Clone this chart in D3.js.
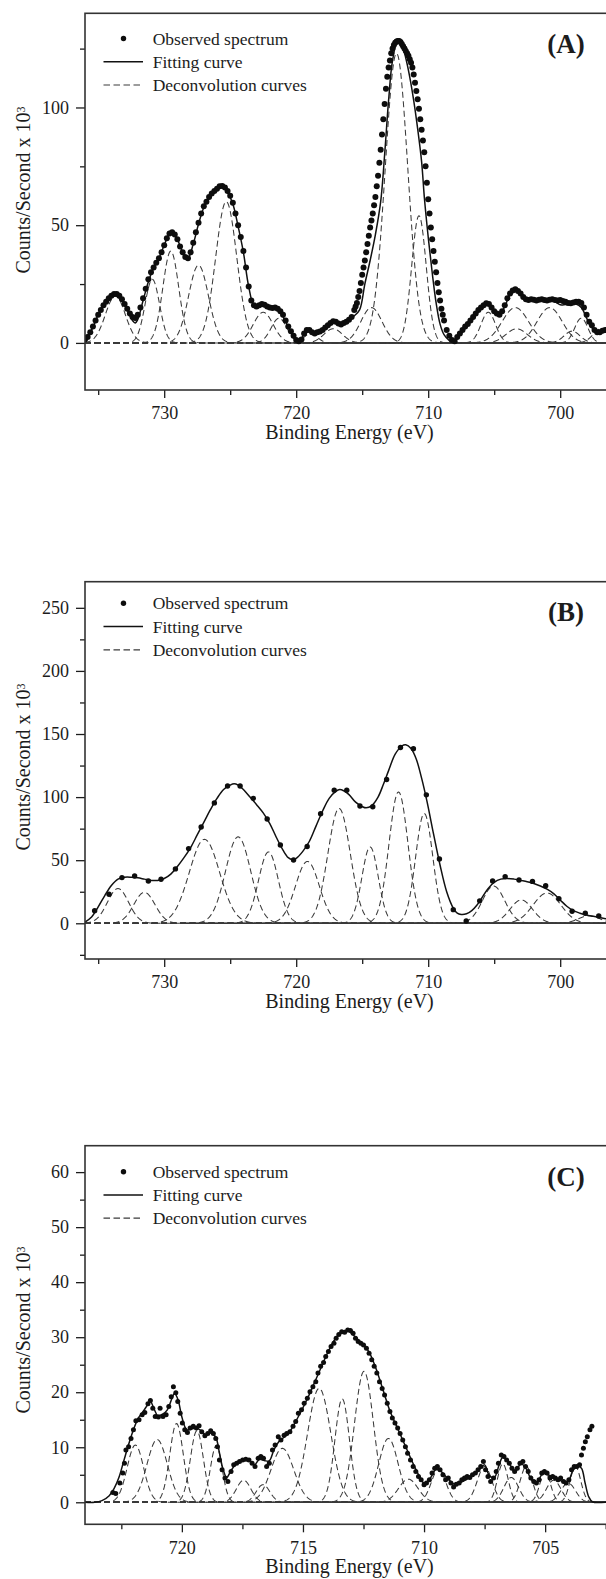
<!DOCTYPE html>
<html lang="en">
<head>
<meta charset="UTF-8">
<title>XPS deconvolution</title>
<style>
  body { margin: 0; background: #fff; }
  svg { display: block; }
</style>
</head>
<body>
<div id="chart"></div>
<script src="https://cdn.jsdelivr.net/npm/d3@7/dist/d3.min.js"></script>
<script>
// ---- panel A : observed spectrum [binding energy, counts/s x 1e3] ----
const obsA = [[736.0,1.5],[735.8,2.5],[735.6,4.5],[735.4,7],[735.2,9.5],[735.0,12],[734.8,14],[734.6,16],[734.4,17.5],[734.2,19],[734.0,20],[733.8,20.8],[733.6,20.8],[733.4,20],[733.2,18.5],[733.0,16.5],[732.8,14.5],[732.6,12.5],[732.4,11],[732.2,10.6],[732.0,12],[731.8,15],[731.6,19],[731.4,23],[731.2,27],[731.0,30],[730.8,32],[730.6,34],[730.4,36],[730.2,38.5],[730.0,41.5],[729.8,44.5],[729.6,46.5],[729.4,47],[729.2,46],[729.0,44],[728.8,41],[728.6,38.5],[728.4,36.5],[728.2,36],[728.0,38.5],[727.8,42.5],[727.6,47],[727.4,51],[727.2,55],[727.0,58],[726.8,60],[726.6,62],[726.4,63.5],[726.2,64.5],[726.0,65.5],[725.8,66.5],[725.6,66.7],[725.4,66],[725.2,64.5],[725.0,62.5],[724.8,59.5],[724.6,55],[724.4,50],[724.2,45],[724.0,39],[723.8,32],[723.6,24],[723.4,18],[723.2,16],[723.0,15.5],[722.8,16],[722.6,16.5],[722.4,16.2],[722.2,15.5],[722.0,15],[721.8,14.8],[721.6,15],[721.4,14.5],[721.2,13.5],[721.0,12],[720.8,9.5],[720.6,7],[720.4,5],[720.2,3],[720.0,1.2],[719.8,0.7],[719.6,1.5],[719.4,4],[719.2,5.5],[719.0,5.5],[718.8,4.5],[718.6,4],[718.4,4.5],[718.2,4.8],[718.0,5.5],[717.8,6.5],[717.6,7.5],[717.4,8.5],[717.2,9.2],[717.0,9],[716.8,8.2],[716.6,7.8],[716.4,8.5],[716.2,9],[716.0,9.8],[715.8,11],[715.6,14],[715.5,15.5],[715.4,17],[715.3,19.5],[715.2,22],[715.1,25.5],[715.0,29],[714.9,32],[714.8,35],[714.7,38.5],[714.6,42],[714.5,45.5],[714.4,49],[714.3,52],[714.2,55],[714.1,58.5],[714.0,62],[713.9,66.5],[713.8,71],[713.7,76.5],[713.6,82],[713.5,88.5],[713.4,95],[713.3,101.5],[713.2,108],[713.1,113],[713.0,117],[712.9,120],[712.8,123],[712.7,125],[712.6,126.5],[712.5,127.5],[712.4,128],[712.3,128.2],[712.2,128.2],[712.1,127.8],[712.0,127],[711.9,126],[711.8,125],[711.7,124],[711.6,123],[711.5,122],[711.4,120.5],[711.3,119],[711.2,117],[711.1,114],[711.0,110.5],[710.9,107],[710.8,103.5],[710.7,99.5],[710.6,95],[710.5,90.5],[710.4,86],[710.3,81],[710.2,75],[710.1,68],[710.0,61],[709.9,55],[709.8,49],[709.7,44],[709.6,39],[709.5,34.5],[709.4,30],[709.3,25.5],[709.2,21.5],[709.1,18],[709.0,14.5],[708.9,12],[708.8,9.5],[708.6,5.5],[708.4,3],[708.2,1.2],[708.0,0.7],[707.8,2.5],[707.6,4],[707.4,5.5],[707.2,7],[707.0,8],[706.8,9.5],[706.6,11],[706.4,12.5],[706.2,14],[706.0,15],[705.8,16],[705.6,16.8],[705.4,16.5],[705.2,15],[705.0,13.5],[704.8,12.5],[704.6,12],[704.4,13.5],[704.2,16],[704.0,19],[703.8,21],[703.6,22.3],[703.4,22.8],[703.2,22],[703.0,21],[702.8,19.5],[702.6,18.5],[702.4,18.2],[702.2,18.5],[702.0,18.3],[701.8,18],[701.6,18.3],[701.4,18.5],[701.2,18.2],[701.0,18],[700.8,18.3],[700.6,18.5],[700.4,18.2],[700.2,18],[700.0,18.2],[699.8,17.8],[699.6,17.5],[699.4,17],[699.2,16.8],[699.0,17.2],[698.8,17.5],[698.6,17.5],[698.4,17],[698.2,15],[698.0,12],[697.8,9],[697.6,7.5],[697.4,5.5],[697.2,4.5],[697.0,4.5],[696.8,5.2],[696.6,5.5],[696.4,5.5],[696.2,5.5]];

const fitA = [[736.0,1.5],[735.5,5.5],[735.0,12],[734.5,17],[734.0,20],[733.6,20.8],[733.2,18.5],[732.8,14],[732.4,9.5],[732.2,8.5],[732.0,10],[731.6,18],[731.2,26],[730.8,32],[730.4,36],[730.0,41.5],[729.6,46.5],[729.4,47],[729.0,44],[728.6,38.5],[728.2,36],[727.8,42],[727.4,50.5],[727.0,57.5],[726.6,61.5],[726.2,64],[725.8,66],[725.6,66.5],[725.2,64],[724.8,59],[724.4,49.5],[724.0,38.5],[723.6,24],[723.2,16],[722.8,15.5],[722.4,16],[722.0,14.8],[721.6,14.5],[721.2,13],[720.8,9],[720.4,4.5],[720.0,1],[719.8,0.5],[719.4,3.5],[719.0,5],[718.6,3.8],[718.2,4.5],[717.8,6.2],[717.2,9],[716.6,7.5],[716.0,9.5],[715.6,11.5],[715.2,14],[714.8,25],[714.4,35],[714.0,46],[713.6,60],[713.3,80],[713.0,103],[712.7,120],[712.3,128.5],[712.0,127],[711.7,121],[711.4,113],[711.1,103],[710.8,91],[710.5,77],[710.28,61],[710.0,45],[709.7,30],[709.4,17],[709.1,8],[708.8,3.5],[708.4,1],[708.1,0.3],[707.6,3.5],[707.0,7.5],[706.4,12],[705.9,15],[705.5,16.5],[705.0,13.5],[704.6,11.8],[704.2,15.5],[703.8,20.5],[703.4,22.3],[703.0,20.5],[702.6,18],[702.2,18],[701.6,17.8],[701.0,17.8],[700.5,17.8],[700.0,16.2],[699.6,16.3],[699.2,16.5],[698.8,16.5],[698.4,15],[698.0,10.5],[697.6,6.5],[697.2,4.2],[696.8,4.5],[696.4,5],[696.0,5]];

// deconvolution components: [centre eV, height, sigma eV]
const compA = [[733.7,20,0.75],[730.9,27,0.55],[729.5,39,0.6],[727.4,33,0.75],[725.3,60,0.8],[722.5,13,0.75],[721.3,10.5,0.6],[718.9,4,0.5],[717.2,6,0.7],[714.3,15,0.8],[712.4,123,0.85],[710.7,54,0.55],[705.45,13,0.55],[703.4,15,1.0],[703.3,6,0.8],[700.8,15,0.95],[699.1,5,0.6],[698.4,10.5,0.5],[696.9,6,0.6]];

// ---- panel B ----
const obsB = [[735.27,10],[734.18,23],[733.2,36.2],[732.24,37.5],[731.2,33.5],[730.24,34.9],[729.15,43.1],[728.15,59.2],[727.2,76.3],[726.2,95.4],[725.2,108.8],[724.25,108.8],[723.25,99],[722.2,82.7],[721.2,62.1],[720.2,50.2],[719.17,60.8],[718.15,86.8],[717.12,105.5],[716.17,105.5],[715.17,93],[714.2,92.4],[713.15,114],[712.1,139.3],[711.12,138.4],[710.14,101.8],[709.15,51],[708.1,10.8],[707.12,1.8],[706.1,17.8],[705.12,33.5],[704.17,37],[703.12,34.3],[702.1,33.2],[701.1,29.7],[700.1,19.5],[699.1,9.5],[698.1,7.9],[697.08,5.8]];

const fitB = [[736.0,1],[735.5,5],[735.0,13],[734.5,22],[734.0,30],[733.5,35],[733.0,36.5],[732.5,36.5],[732.0,36],[731.5,35],[731.0,34],[730.5,34],[730.0,35.5],[729.5,39],[729.0,45],[728.5,52],[728.0,60],[727.5,70],[727.0,80],[726.5,90],[726.0,99],[725.5,106],[725.0,109.5],[724.7,110.5],[724.4,109.5],[724.0,106],[723.5,100],[723.0,94],[722.5,87.5],[722.0,79],[721.5,68],[721.0,58],[720.6,52],[720.3,50.5],[720.0,51.5],[719.5,57],[719.0,65],[718.5,77],[718.0,89],[717.5,99],[717.0,104.5],[716.7,106],[716.4,105],[716.0,102],[715.5,96],[715.0,92.5],[714.7,91.5],[714.3,93],[713.8,100],[713.4,110],[713.0,121],[712.5,134],[712.0,140.5],[711.7,141.5],[711.3,138.5],[710.9,130],[710.5,115],[710.1,97],[709.6,71],[709.1,46],[708.6,25],[708.1,12],[707.8,8],[707.5,7],[707.1,7.5],[706.7,10],[706.3,14.5],[706.0,19],[705.5,27],[705.0,32.5],[704.5,35],[704.0,35.5],[703.5,35],[703.0,34],[702.5,33],[702.0,31.5],[701.5,29.5],[701.0,27],[700.5,23.5],[700.0,18.5],[699.5,13.5],[699.0,10],[698.5,8],[698.0,6.5],[697.5,5.5],[697.0,4.5],[696.5,3.5],[696.0,3]];

const compB = [[733.5,27.5,0.8],[731.5,24.5,0.8],[726.95,66.5,1.15],[724.4,68.5,0.95],[722.1,56.5,0.75],[719.15,49,0.9],[716.75,91,0.85],[714.4,60.5,0.62],[712.25,104,0.72],[710.3,87,0.65],[705.05,29.5,0.85],[702.95,18.5,0.85],[701.0,24,1.05],[697.8,6,0.8]];

// ---- panel C ----
const obsC = [[722.85,1.8],[722.73,1.6],[722.56,3.5],[722.44,5.3],[722.37,7.1],[722.31,9.5],[722.2,10.1],[722.1,11.6],[722.0,13.2],[721.9,14.8],[721.77,15],[721.64,15.9],[721.53,16.3],[721.4,17.9],[721.3,18.5],[721.2,17.1],[721.1,15.6],[720.97,15.5],[720.9,17.1],[720.78,15.6],[720.65,15.9],[720.54,17.4],[720.44,19.2],[720.35,21],[720.25,19.9],[720.17,18.3],[720.07,16.2],[719.98,14.4],[719.88,13.2],[719.77,12.7],[719.66,13.5],[719.53,13.8],[719.4,13.5],[719.29,13.9],[719.18,12.8],[719.05,12.1],[718.93,12.5],[718.81,13],[718.7,12.5],[718.6,11.6],[718.53,10.1],[718.45,7.7],[718.34,5.9],[718.22,4.4],[718.1,3.8],[717.97,5.6],[717.86,6.8],[717.74,7.1],[717.62,7.4],[717.49,7.7],[717.36,7.8],[717.23,7.7],[717.1,7.1],[716.98,6.5],[716.85,8],[716.74,8.3],[716.63,8],[716.5,6.5],[716.39,7.1],[716.26,9.5],[716.15,10.4],[716.02,11.9],[715.91,11.3],[715.78,12.2],[715.67,12.5],[715.54,12.8],[715.41,13.8],[715.3,14.7],[715.19,16.2],[715.06,16.8],[714.95,18],[714.82,18.9],[714.71,20.1],[714.59,21],[714.47,21.9],[714.38,23.5],[714.27,24.7],[714.15,25.4],[714.06,26.5],[713.95,27.4],[713.84,28.3],[713.72,28.9],[713.63,29.8],[713.52,30.5],[713.4,31],[713.28,30.9],[713.15,31.3],[713.04,31.2],[712.93,30.7],[712.83,29.8],[712.72,29.2],[712.61,28.9],[712.5,28.6],[712.38,28],[712.27,27.1],[712.16,25.9],[712.06,24.7],[711.95,23.5],[711.84,21.9],[711.73,20.7],[711.63,19.5],[711.52,18],[711.41,16.5],[711.31,15.3],[711.2,14.4],[711.09,13.5],[710.99,12.5],[710.88,11.3],[710.77,10.1],[710.68,8.9],[710.56,7.7],[710.45,6.5],[710.34,5.6],[710.23,4.7],[710.12,4.1],[710.0,3.2],[709.9,3.5],[709.78,4.1],[709.67,5.3],[709.56,6.2],[709.45,6.5],[709.34,5.9],[709.22,5],[709.11,4.1],[709.0,4.4],[708.89,3.5],[708.78,2.8],[708.67,3.3],[708.55,3.5],[708.44,4.1],[708.33,4.4],[708.22,4.7],[708.11,4.5],[708.0,5],[707.88,5.3],[707.77,5.9],[707.66,6.5],[707.55,7.4],[707.46,5.9],[707.36,4.7],[707.25,3.8],[707.13,4.4],[707.02,5.6],[706.93,7.1],[706.81,8.6],[706.7,8.3],[706.59,7.7],[706.48,7.1],[706.37,6.2],[706.26,5.6],[706.15,6.2],[706.04,7.1],[705.92,7.4],[705.81,6.5],[705.7,5.6],[705.59,4.4],[705.47,3.8],[705.36,3.5],[705.25,4.1],[705.14,5.3],[705.03,5.6],[704.92,5.3],[704.8,4.4],[704.69,4.7],[704.58,4.4],[704.47,4.1],[704.36,4.4],[704.24,3.8],[704.13,3.5],[704.02,4.1],[703.91,5.9],[703.8,6.5],[703.69,6.5],[703.58,6.8],[703.5,8.6],[703.42,9.8],[703.34,11],[703.26,11.9],[703.15,13.2],[703.07,13.8]];

const fitC = [[724.0,0],[723.6,0],[723.3,0.3],[723.0,1.2],[722.8,2.5],[722.6,4.5],[722.4,7.5],[722.2,10.5],[722.0,13.2],[721.8,15.3],[721.6,16.5],[721.4,17.8],[721.3,18.3],[721.15,17],[721.0,15.8],[720.8,16],[720.6,16.8],[720.4,19],[720.3,19.8],[720.15,18.5],[720.0,15.5],[719.8,13.2],[719.6,13.3],[719.4,13.5],[719.2,13],[719.0,12.2],[718.8,12.6],[718.6,11.8],[718.45,9],[718.3,6],[718.15,4.5],[718.0,5.5],[717.8,6.8],[717.5,7.6],[717.2,7.5],[717.0,6.8],[716.8,7.8],[716.6,7.6],[716.4,7.5],[716.2,9.5],[716.0,11],[715.6,12.5],[715.2,15.5],[714.8,19],[714.4,23],[714.0,27],[713.7,29.5],[713.4,31],[713.15,31.2],[712.9,30.3],[712.6,29],[712.3,27.5],[712.0,24.5],[711.7,20.5],[711.4,16.5],[711.1,13.5],[710.8,10.5],[710.5,7.5],[710.2,4.8],[710.0,3.5],[709.8,4],[709.5,6],[709.3,5.6],[709.0,4.2],[708.7,3.2],[708.4,3.8],[708.0,4.8],[707.7,6],[707.5,6.8],[707.3,4.8],[707.1,4.5],[706.9,6.8],[706.75,8.2],[706.5,7.2],[706.25,5.5],[706.0,7],[705.8,6.2],[705.55,4],[705.35,3.5],[705.1,5.2],[704.9,5],[704.6,4.5],[704.3,3.8],[704.05,3.8],[703.85,5.8],[703.65,6.5],[703.5,6.2],[703.35,3.5],[703.2,1],[703.05,0.1],[702.5,0],[702.0,0]];

const compC = [[721.92,10.4,0.34],[721.02,11.4,0.42],[720.22,14.3,0.28],[719.38,13,0.27],[718.58,10.3,0.24],[717.45,4,0.3],[716.65,3.2,0.28],[715.85,9.8,0.47],[714.33,20.7,0.48],[713.38,18.8,0.3],[712.48,23.8,0.39],[711.47,11.6,0.4],[710.65,4.2,0.4],[709.4,6,0.3],[707.5,6.5,0.3],[706.75,7,0.22],[706.4,4.5,0.3],[705.78,6.5,0.25],[705.0,5.5,0.22],[704.65,4,0.3],[704.05,3.5,0.3],[703.75,6.5,0.22]];

// tick values
const xMajorAB = [730, 720, 710, 700];
const xMinorAB = [735, 725, 715, 705];
const xMajorC = [720, 715, 710, 705];
const xMinorC = [722.5, 717.5, 712.5, 707.5, 702.5];
const yMajorA = [0, 50, 100];
const yMinorA = [25, 75, 125];
const yMajorB = [0, 50, 100, 150, 200, 250];
const yMinorB = [-25, 25, 75, 125, 175, 225];
const yMajorC = [0, 10, 20, 30, 40, 50, 60];
const yMinorC = [5, 15, 25, 35, 45, 55];

const legendLabels = ['Observed spectrum', 'Fitting curve', 'Deconvolution curves'];

const serif = '"Liberation Serif", "Times New Roman", Times, serif';
const ink = '#1c1c1c';
const dash = '6,3.5';

const panels = [
  {id: 'A', obs: obsA, fit: fitA, comps: compA, top: 13.3, bottom: 390, right: 613,
   xDomain: [736, 696], yDomain: [-20, 140], xMajor: xMajorAB, xMinor: xMinorAB,
   yMajor: yMajorA, yMinor: yMinorA, zeroFrom: 720, r: 3.0, legendY: 38.5, tagY: 44, yTitleY: 190},
  {id: 'B', obs: obsB, fit: fitB, comps: compB, top: 581.7, bottom: 959, right: 613,
   xDomain: [736, 696], yDomain: [-28.3, 270.7], xMajor: xMajorAB, xMinor: xMinorAB,
   yMajor: yMajorB, yMinor: yMinorB, zeroFrom: 728.5, r: 2.7, legendY: 603.3, tagY: 611.7, yTitleY: 767},
  {id: 'C', obs: obsC, fit: fitC, comps: compC, top: 1145.7, bottom: 1524.3, right: 617.8,
   xDomain: [724, 702], yDomain: [-4, 64.8], xMajor: xMajorC, xMinor: xMinorC,
   yMajor: yMajorC, yMinor: yMinorC, zeroFrom: 715.5, r: 2.5, legendY: 1171.7, tagY: 1176.7, yTitleY: 1330}
];

const left = 85;

const svg = d3.select('#chart').append('svg')
  .attr('width', 606)
  .attr('height', 1579)
  .style('background', '#fff');

function styleAxis(a) {
  a.select('.domain').remove();
  a.attr('color', ink).attr('font-family', serif).attr('font-size', 18);
  a.selectAll('line').attr('stroke-width', 1.3);
}

function drawPanel(p) {
  const x = d3.scaleLinear().domain(p.xDomain).range([left, p.right]);
  const y = d3.scaleLinear().domain(p.yDomain).range([p.bottom, p.top]);
  const g = svg.append('g');

  svg.append('clipPath').attr('id', 'clip' + p.id)
    .append('rect')
    .attr('x', left).attr('y', p.top)
    .attr('width', p.right - left).attr('height', p.bottom - p.top);

  // axes: minor then major ticks, outward
  g.append('g').attr('transform', `translate(${left},0)`)
    .call(d3.axisLeft(y).tickValues(p.yMinor).tickSize(5).tickFormat(''))
    .call(styleAxis);
  g.append('g').attr('transform', `translate(${left},0)`)
    .call(d3.axisLeft(y).tickValues(p.yMajor).tickSize(9).tickPadding(7))
    .call(styleAxis);
  g.append('g').attr('transform', `translate(0,${p.bottom})`)
    .call(d3.axisBottom(x).tickValues(p.xMinor).tickSize(5).tickFormat(''))
    .call(styleAxis);
  g.append('g').attr('transform', `translate(0,${p.bottom})`)
    .call(d3.axisBottom(x).tickValues(p.xMajor).tickSize(8).tickPadding(8.5))
    .call(styleAxis);

  const plot = g.append('g').attr('clip-path', `url(#clip${p.id})`);

  // baseline
  plot.append('line')
    .attr('x1', x(p.zeroFrom)).attr('x2', p.right)
    .attr('y1', y(0)).attr('y2', y(0))
    .attr('stroke', '#2a2a2a').attr('stroke-width', 1.4);

  // deconvolution components (gaussians from the read peak parameters)
  const [e0, e1] = p.xDomain;
  const n = Math.round(Math.abs(e0 - e1) / 0.02);
  const grid = d3.range(n + 1).map(i => e0 + (e1 - e0) * i / n);
  const line = d3.line().x(d => x(d[0])).y(d => y(d[1]));
  p.comps.forEach(([c, h, s]) => {
    plot.append('path')
      .datum(grid.map(e => [e, h * Math.exp(-((e - c) ** 2) / (2 * s * s))]))
      .attr('fill', 'none')
      .attr('stroke', '#3a3a3a')
      .attr('stroke-width', 1.05)
      .attr('stroke-dasharray', dash)
      .attr('d', line);
  });

  // fitting curve
  plot.append('path')
    .datum(p.fit)
    .attr('fill', 'none')
    .attr('stroke', '#111')
    .attr('stroke-width', 1.5)
    .attr('d', d3.line().x(d => x(d[0])).y(d => y(d[1])).curve(d3.curveCatmullRom.alpha(0.5)));

  // observed spectrum
  plot.selectAll('circle.obs')
    .data(p.obs)
    .join('circle')
    .attr('class', 'obs')
    .attr('cx', d => x(d[0]))
    .attr('cy', d => y(d[1]))
    .attr('r', p.r)
    .attr('fill', '#0d0d0d');

  // frame
  g.append('rect')
    .attr('x', left).attr('y', p.top)
    .attr('width', p.right - left).attr('height', p.bottom - p.top)
    .attr('fill', 'none').attr('stroke', '#333').attr('stroke-width', 1.6);

  // legend
  const lg = g.append('g').attr('font-family', serif).attr('font-size', 17.5).attr('fill', ink);
  const rows = [p.legendY, p.legendY + 23.3, p.legendY + 46.5];
  lg.append('circle').attr('cx', 123.5).attr('cy', rows[0]).attr('r', 2.7).attr('fill', '#0d0d0d');
  lg.append('line').attr('x1', 103.5).attr('x2', 143).attr('y1', rows[1]).attr('y2', rows[1])
    .attr('stroke', '#111').attr('stroke-width', 1.5);
  lg.append('line').attr('x1', 103.5).attr('x2', 143).attr('y1', rows[2]).attr('y2', rows[2])
    .attr('stroke', '#3a3a3a').attr('stroke-width', 1.2).attr('stroke-dasharray', '6.5,3.5');
  legendLabels.forEach((t, i) => {
    lg.append('text').attr('x', 152.7).attr('y', rows[i]).attr('dy', '0.35em').text(t);
  });

  // panel tag
  g.append('text')
    .attr('x', 566).attr('y', p.tagY).attr('dy', '0.35em')
    .attr('text-anchor', 'middle')
    .attr('font-family', serif).attr('font-size', 27).attr('font-weight', 'bold')
    .attr('fill', ink)
    .text(`(${p.id})`);

  // axis titles
  g.append('text')
    .attr('x', 349.5).attr('y', p.bottom + 48.5)
    .attr('text-anchor', 'middle')
    .attr('font-family', serif).attr('font-size', 20).attr('fill', ink)
    .text('Binding Energy (eV)');

  const yt = g.append('text')
    .attr('transform', `translate(23,${p.yTitleY}) rotate(-90)`)
    .attr('dy', '0.35em')
    .attr('text-anchor', 'middle')
    .attr('font-family', serif).attr('font-size', 20).attr('fill', ink);
  yt.append('tspan').text('Counts/Second x 10');
  yt.append('tspan').attr('dy', '-0.45em').attr('font-size', 12).text('3');
}

panels.forEach(drawPanel);
</script>
</body>
</html>
